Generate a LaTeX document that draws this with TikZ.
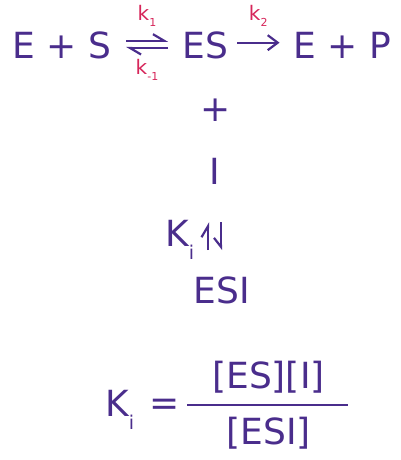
\documentclass[tikz,border=0pt]{standalone}
\usepackage{fontspec}
\setmainfont{DejaVu Sans}
\usetikzlibrary{arrows.meta}
\definecolor{enzpurple}{RGB}{74,45,140}
\definecolor{ratered}{RGB}{214,38,90}
\newcommand{\ksub}[1]{\raisebox{-6pt}{\fontsize{11}{11}\selectfont #1}}
\newcommand{\isub}[1]{\raisebox{-13pt}{\fontsize{19}{19}\selectfont #1}}
\tikzset{
  species/.style={inner sep=0pt, text=enzpurple, font=\fontsize{36}{40}\selectfont, anchor=base},
  rate/.style={inner sep=0pt, text=ratered, font=\fontsize{20}{22}\selectfont},
  harpl/.style={draw=enzpurple, line width=2.2pt, -{Straight Barb[left, length=11pt, width=13pt]}},
  harpr/.style={draw=enzpurple, line width=2.2pt, -{Straight Barb[right, length=9pt, width=14pt]}},
  forward/.style={draw=enzpurple, line width=2.2pt, -{Straight Barb[length=10pt, width=15pt]}},
  fracbar/.style={draw=enzpurple, line width=2pt}
}
\begin{document}
\begin{tikzpicture}[x=1pt, y=1pt]
  \useasboundingbox (0,0) rectangle (400,460);
  % reaction line
  \node (sub) [species] at (62,401) {E + S};
  \node (es) [species] at (205.5,401) {ES};
  \node (prod) [species] at (342,401) {E + P};
  \draw [harpl] ([shift={(14.5,18.3)}]sub.base east) -- ([shift={(-14.5,18.3)}]es.base west)
    node[midway, above=13pt, rate] {k\ksub{1}};
  \draw [harpl] ([shift={(-14.5,11)}]es.base west) -- ([shift={(14.5,11)}]sub.base east)
    node[midway, below=10pt, rate] {k\ksub{-1}};
  \draw [forward] ([shift={(8.5,16.3)}]es.base east) -- ([shift={(-13.5,16.3)}]prod.base west)
    node[midway, above=15pt, rate] {k\ksub{2}};
  % inhibitor binding
  \node (plus) [species, anchor=center] at (215.5,349.5) {+};
  \node (inh) [species] at (214.5,275) {I};
  \node (esi) [species] at (221.5,156) {ESI};
  \node (kiup) [species, anchor=base west] at (165,213) {K\isub{i}};
  \draw [harpl] ([shift={(-13.5,27)}]esi.north) -- ([shift={(-6.5,-37)}]inh.south);
  \draw [harpr] ([shift={(6.5,-37)}]inh.south) -- ([shift={(-0.5,27)}]esi.north);
  % dissociation constant
  \node (kilow) [species, anchor=base west] at (105,43) {K\isub{i}};
  \node (eq) [species, anchor=center] at (165,53) {=};
  \node (num) [species] at (268.5,71) {[ES][I]};
  \node (den) [species] at (268.5,16) {[ESI]};
  \draw [fracbar] (187,55) -- (348,55);
\end{tikzpicture}
\end{document}
